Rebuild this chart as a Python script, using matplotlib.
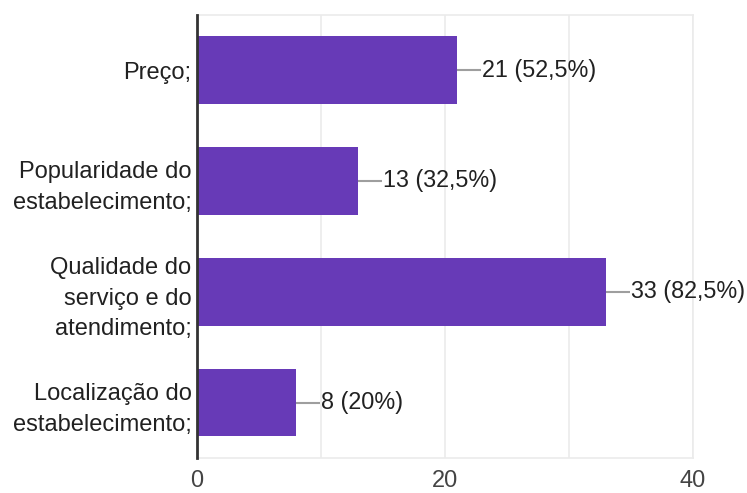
import matplotlib.pyplot as plt

categorias = ["Preço;", "Popularidade do\nestabelecimento;",
              "Qualidade do\nserviço e do\natendimento;",
              "Localização do\nestabelecimento;"]
respostas = [21, 13, 33, 8]
percentuais = ["52,5%", "32,5%", "82,5%", "20%"]

plt.rcParams["font.family"] = ["Liberation Sans", "DejaVu Sans"]

fig = plt.figure(figsize=(7.47, 4.93), dpi=100)
ax = fig.add_axes([0.2637, 0.071, 0.664, 0.899])

y = list(range(len(categorias)))
ax.barh(y, respostas, height=0.61, color="#673ab7", zorder=3)

# rótulos com linha guia cinza saindo do fim da barra
for yi, n, p in zip(y, respostas, percentuais):
    ax.plot([n, n + 1.9], [yi, yi], color="#9e9e9e", lw=1.5, zorder=3,
            solid_capstyle="butt")
    ax.text(n + 2.0, yi, f"{n} ({p})", va="center", ha="left",
            fontsize=16.8, color="#212121", zorder=4)

ax.set_xlim(0, 40)
ax.set_ylim(len(categorias) - 0.5, -0.5)
ax.set_xticks([0, 20, 40])
ax.set_xticks([10, 30], minor=True)
ax.set_yticks(y)
ax.set_yticklabels(categorias, fontsize=17, color="#212121",
                   linespacing=1.5)
ax.tick_params(axis="x", labelsize=17, labelcolor="#444444", length=0,
               pad=9, which="both")
ax.tick_params(axis="y", length=0, pad=4)

ax.grid(axis="x", which="both", color="#ebebeb", lw=1.2, zorder=0)
for lado in ["top", "bottom", "right"]:
    ax.spines[lado].set_color("#ebebeb")
    ax.spines[lado].set_linewidth(1.2)
ax.spines["left"].set_color("#333333")
ax.spines["left"].set_linewidth(2)
ax.spines["left"].set_zorder(5)

fig.savefig("out.png", dpi=100)
